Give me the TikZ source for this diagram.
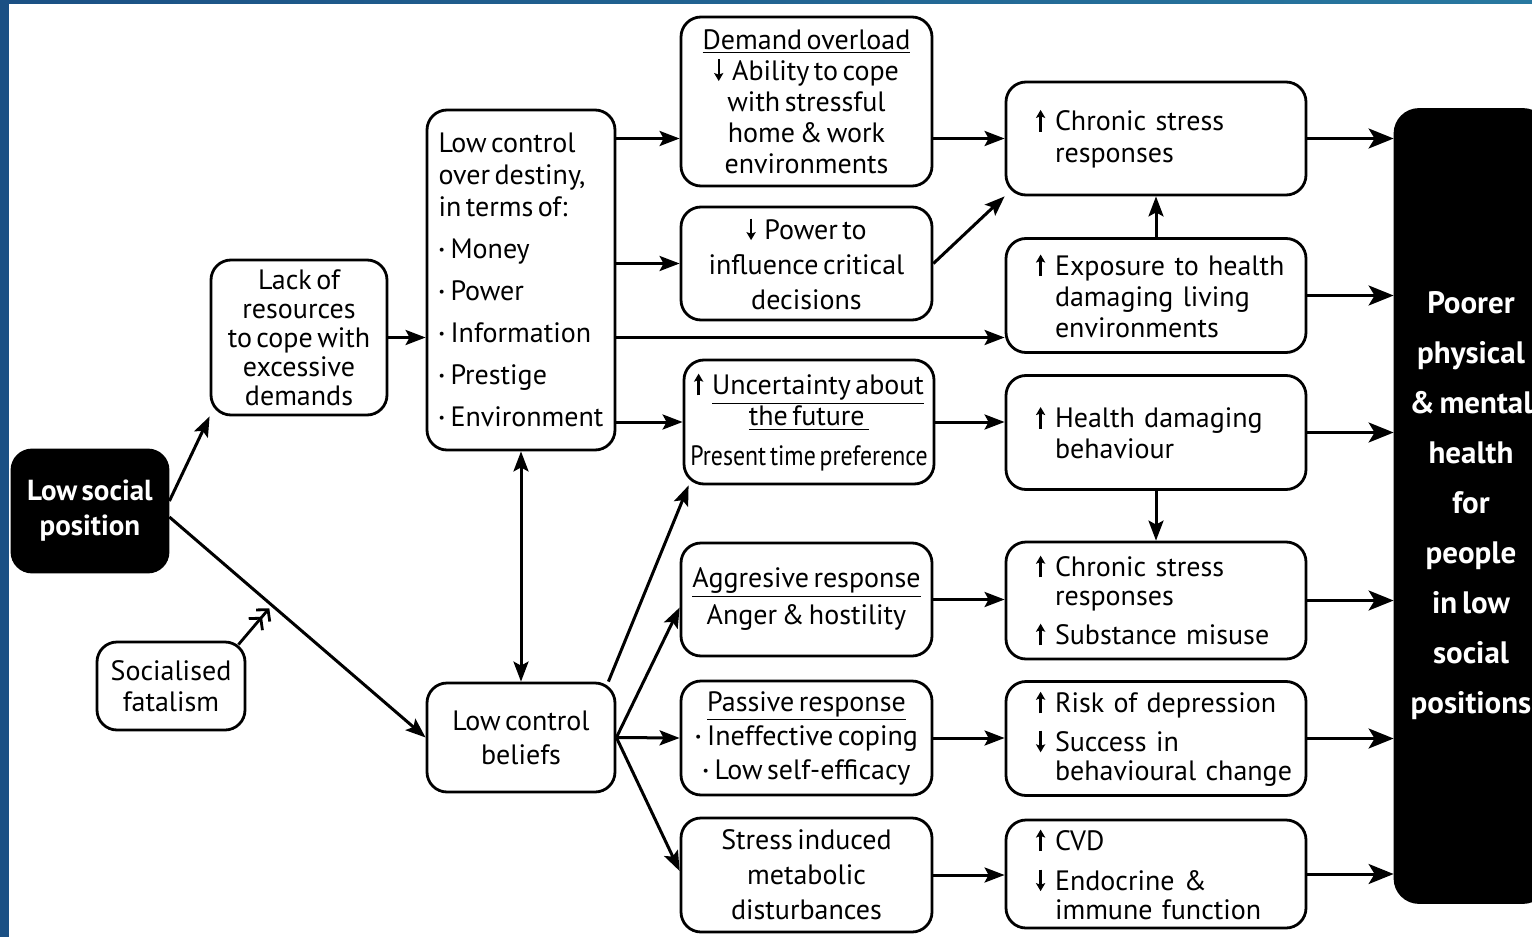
\documentclass[tikz,border=0pt]{standalone}
\usepackage{fontspec}
\setmainfont{PT Sans}[WordSpace=0.6]
\usepackage{graphicx}
\usetikzlibrary{arrows.meta,calc}

\definecolor{slideblue}{RGB}{27,80,132}
\definecolor{slideteal}{RGB}{40,120,160}

\newcommand\uarr{\tikz[baseline=0pt,x=1pt,y=1pt]\draw[line width=1.2pt,-{Stealth[length=4pt,width=4.6pt,inset=0.8pt]}] (0,-0.4) -- (0,10.4);}
\newcommand\darr{\tikz[baseline=0pt,x=1pt,y=1pt]\draw[line width=1.2pt,-{Stealth[length=4pt,width=4.6pt,inset=0.8pt]}] (0,10.4) -- (0,-0.4);}
\newcommand\up{\makebox[9pt][l]{\uarr}}
\newcommand\dn{\makebox[9pt][l]{\darr}}
\newcommand\rup{\makebox[17.5pt][l]{\hspace{8pt}\uarr}}
\newcommand\rdn{\makebox[17.5pt][l]{\hspace{8pt}\darr}}
\newcommand\rind{\makebox[17.5pt]{}}
\newcommand\bul{\makebox[6pt][l]{\raisebox{2pt}{\fontsize{7}{7}\selectfont\textbullet}}}

\begin{document}
\begin{tikzpicture}[x=0.5pt,y=-0.5pt]
    \tikzstyle{box}=[draw, line width=1.4pt, rounded corners=10pt, inner sep=0pt, align=center, font=\fontsize{14}{16}\selectfont]
    \tikzstyle{dark}=[box, fill=black, text=white, font=\fontsize{14.5}{17.5}\selectfont\bfseries]
    \tikzstyle{causebox}=[box, minimum width=125.5pt, minimum height=56.5pt]
    \tikzstyle{effectbox}=[box, minimum width=150pt, minimum height=57pt, text width=136pt, align=left, font=\fontsize{14}{14.5}\selectfont]
    \tikzstyle{arr}=[line width=1.5pt, -{Stealth[length=10pt,width=7.5pt,inset=2pt]}]
    \tikzstyle{bigarr}=[line width=1.5pt, -{Stealth[length=12.5pt,width=10pt,inset=3pt]}]

    \useasboundingbox (0,0) rectangle (1532,937);
    \clip (0,0) rectangle (1532,937);
    \fill[slideblue] (0,0) rectangle (1532,937);
    \shade[left color=slideblue, right color=slideteal] (0,0) rectangle (1532,4);
    \fill[white] (9,4) rectangle (1532,937);

    \node[dark, minimum width=78pt, minimum height=61pt] (lsp) at (90,511) {Low social\\position};
    \node[box, minimum width=88pt, minimum height=77.5pt, font=\fontsize{14}{14.5}\selectfont] (lack) at (299,337.5) {Lack of\\resources\\to cope with\\excessive\\demands};
    \node[box, minimum width=74pt, minimum height=44pt, font=\fontsize{14}{15.5}\selectfont] (fatal) at (171,686) {Socialised\\fatalism};
    \node[box, minimum width=94pt, minimum height=170pt, align=left] (destiny) at (521,280) {Low control\\over destiny,\\in terms of:\\[5pt]\bul Money\\[5pt]\bul Power\\[5pt]\bul Information\\[5pt]\bul Prestige\\[5pt]\bul Environment};
    \node[box, minimum width=94pt, minimum height=54.5pt, font=\fontsize{14}{17}\selectfont] (beliefs) at (521,737.5) {Low control\\beliefs};

    \node[causebox, minimum height=84.5pt, font=\fontsize{14}{15.5}\selectfont] (demand) at (806.5,101.5) {\underline{Demand overload}\\\dn Ability to cope\\with stressful\\home \& work\\environments};
    \node[causebox, font=\fontsize{14}{17.5}\selectfont] (power) at (806.5,263.5) {\dn Power to\\influence critical\\decisions};
    \node[causebox, minimum width=125pt, minimum height=62pt, font=\fontsize{14}{14}\selectfont] (uncert) at (809,422) {\up\underline{Uncertainty about}\\\underline{the future\ }\\[6pt]\scalebox{0.85}[1]{Present time preference}};
    \node[causebox, font=\fontsize{14}{18.5}\selectfont] (aggr) at (806.5,599.5) {\underline{Aggresive response}\\Anger \& hostility};
    \node[causebox, minimum height=57pt, font=\fontsize{14}{17}\selectfont] (passive) at (806.5,738) {\underline{Passive response}\\\bul Ineffective coping\\\bul Low self-efficacy};
    \node[causebox, minimum height=57pt, font=\fontsize{14}{17.5}\selectfont] (stress) at (806.5,875) {Stress induced\\metabolic\\disturbances};

    \node[effectbox, minimum height=56.5pt, font=\fontsize{14}{16}\selectfont] (chronic) at (1156,138.5) {\rup Chronic stress\\\rind responses};
    \node[effectbox, font=\fontsize{14}{15.5}\selectfont] (expo) at (1156,295.5) {\rup Exposure to health\\\rind damaging living\\\rind environments};
    \node[effectbox, font=\fontsize{14}{15.5}\selectfont] (health) at (1156,432.5) {\rup Health damaging\\\rind behaviour};
    \node[effectbox, minimum height=58.5pt] (subst) at (1156,600.5) {\rup Chronic stress\\\rind responses\\[5pt]\rup Substance misuse};
    \node[effectbox] (depress) at (1156,738.5) {\rup Risk of depression\\[5pt]\rdn Success in\\\rind behavioural change};
    \node[effectbox, minimum height=54pt] (cvd) at (1156,874) {\rup CVD\\[5.5pt]\rdn Endocrine \&\\\rind immune function};

    \node[dark, rounded corners=12pt, minimum width=76pt, minimum height=396.5pt, font=\fontsize{15.5}{25}\selectfont\bfseries] (poorer) at (1471,506) {Poorer\\physical\\\& mental\\health\\for\\people\\in low\\social\\positions};

    \coordinate (fat) at ($([yshift=-3pt]lsp.east)!0.4!(beliefs.west)$);

    \draw[arr] ([yshift=5pt]lsp.east) -- (lack.south west);
    \draw[arr] ([yshift=-3pt]lsp.east) -- (beliefs.west);
    \draw[line width=1.4pt, -{Straight Barb[length=4pt,width=9pt]Straight Barb[length=4pt,width=9pt]}, shorten >=2pt] ([xshift=-4pt,yshift=-2pt]fatal.north east) -- (fat);
    \draw[arr] (lack.east) -- (destiny.west |- lack.east);
    \draw[{Stealth[length=10pt,width=7.5pt,inset=2pt]}-{Stealth[length=10pt,width=7.5pt,inset=2pt]}, line width=1.5pt] (destiny.south) -- (beliefs.north);

    \draw[arr] (destiny.east |- chronic.west) -- (demand.west |- chronic.west);
    \draw[arr] (destiny.east |- power.west) -- (power.west);
    \draw[arr] (destiny.east |- lack.east) -- (expo.west |- lack.east);
    \draw[arr] (destiny.east |- uncert.west) -- (uncert.west);

    \draw[arr] ([xshift=-4pt]beliefs.north east) -- ([xshift=3pt]uncert.south west);
    \draw[arr] (beliefs.east) -- ([yshift=-4pt]aggr.west);
    \draw[arr] (beliefs.east) -- (passive.west);
    \draw[arr] (beliefs.east) -- ([yshift=2pt]stress.west);

    \draw[arr] (demand.east |- chronic.west) -- (chronic.west);
    \draw[arr] (power.east) -- (chronic.south west);
    \draw[arr] (expo.north) -- (chronic.south);
    \draw[arr] (uncert.east) -- (health.west |- uncert.east);
    \draw[arr] (health.south) -- (subst.north);
    \draw[arr] (aggr.east) -- (subst.west |- aggr.east);
    \draw[arr] (passive.east) -- (depress.west |- passive.east);
    \draw[arr] (stress.east) -- (cvd.west |- stress.east);

    \draw[bigarr] (chronic.east) -- (poorer.west |- chronic.east);
    \draw[bigarr] (expo.east) -- (poorer.west |- expo.east);
    \draw[bigarr] (health.east) -- (poorer.west |- health.east);
    \draw[bigarr] (subst.east) -- (poorer.west |- subst.east);
    \draw[bigarr] (depress.east) -- (poorer.west |- depress.east);
    \draw[bigarr] (cvd.east) -- (poorer.west |- cvd.east);
\end{tikzpicture}
\end{document}
